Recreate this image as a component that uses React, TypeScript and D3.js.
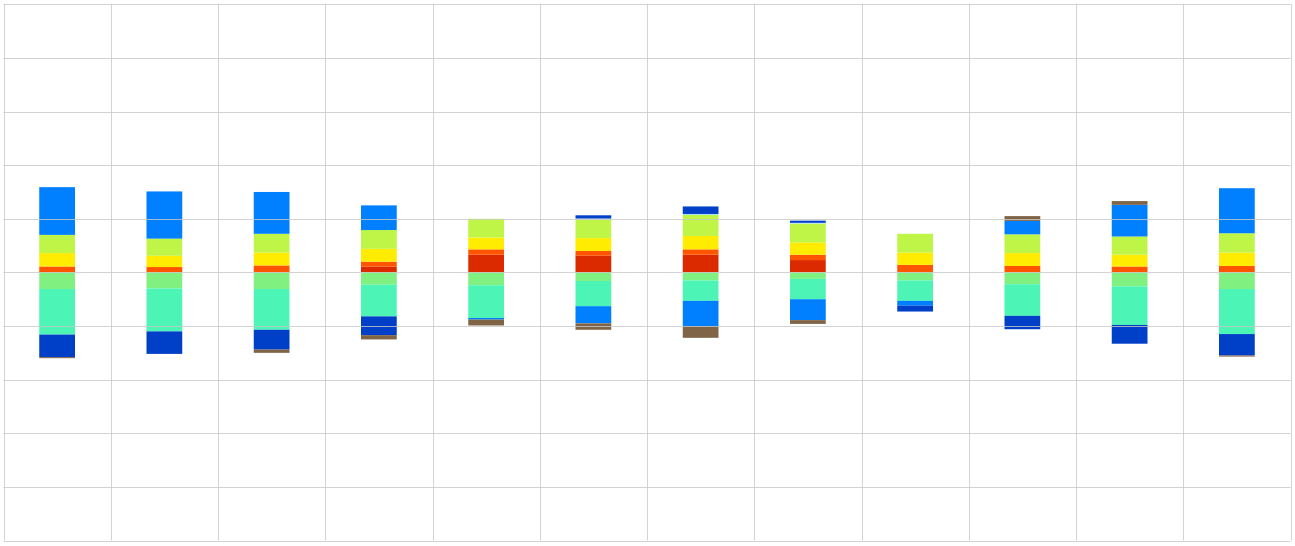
import React from "react";
import * as d3 from "d3";

const categories = ["1", "2", "3", "4", "5", "6", "7", "8", "9", "10", "11", "12"];

const seriesNames = ["darkred", "orange", "yellow", "yellowgreen", "lightgreen", "aquamarine", "blue", "sky", "darkblue", "brown"];
const seriesColors = ["#dc2a00", "#ff5500", "#ffec00", "#bff546", "#80f080", "#4cf5b5", "#0080ff", "#a6e3f2", "#0040c8", "#806446"];

const darkred = [0, 0, 0, 1.1, 3.3, 3.1, 3.3, 2.3, 0, 0, 0, 0];
const orange = [1.1, 1.0, 1.3, 0.9, 1.0, 0.9, 1.0, 1.0, 1.4, 1.2, 1.1, 1.2];
const yellow = [2.5, 2.1, 2.4, 2.4, 2.2, 2.4, 2.5, 2.3, 2.3, 2.4, 2.2, 2.5];
const yellowgreen = [3.4, 3.2, 3.5, 3.5, 3.5, 3.5, 3.9, 3.5, 3.5, 3.5, 3.4, 3.6];
const lightgreen = [-3.1, -3.0, -3.1, -2.3, -2.4, -1.6, -1.5, -1.2, -1.5, -2.2, -2.6, -3.1];
const aquamarine = [-8.5, -8.0, -7.6, -5.9, -6.1, -4.7, -3.8, -3.8, -3.8, -5.9, -7.2, -8.4];
const blue = [8.9, 8.8, 7.8, 4.6, -0.3, -3.2, -4.7, -3.9, -0.9, 2.5, 5.9, 8.4];
const sky = [0, 0, 0, 0, 0, 0.15, 0.2, 0.15, 0, 0, 0, 0];
const darkblue = [-4.2, -4.2, -3.7, -3.5, 0, 0.6, 1.4, 0.4, -1.1, -2.5, -3.5, -4.0];
const brown = [-0.2, 0, -0.6, -0.8, -1.1, -1.2, -2.2, -0.7, 0, 0.9, 0.7, -0.2];

const seriesValues = [darkred, orange, yellow, yellowgreen, lightgreen, aquamarine, blue, sky, darkblue, brown];

const yTicks = [-50, -40, -30, -20, -10, 0, 10, 20, 30, 40, 50];

const W = 1295;
const H = 546;
const left = 3.5;
const right = 1290.5;
const top = 4.3;
const bottom = 540.5;

export default function App() {
  const rows = categories.map((c, i) => {
    const r: any = { cat: c };
    seriesNames.forEach((s, k) => (r[s] = seriesValues[k][i]));
    return r;
  });
  const stack = d3.stack<any>().keys(seriesNames).offset(d3.stackOffsetDiverging);
  const stacked = stack(rows);

  const x = d3.scaleBand<string>().domain(categories).range([left, right]).padding(0);
  const y = d3.scaleLinear().domain([-50, 50]).range([bottom, top]);
  const bw = x.bandwidth();
  const barW = bw / 3;

  const vLines = categories.map((c) => x(c) as number).concat([right]);

  return (
    <svg width={W} height={H} style={{ position: "absolute", left: 0, top: 0, background: "#fff" }}>
      <rect x={0} y={0} width={W} height={H} fill="#fff" />
      <g>
        {stacked.map((layer, k) => (
          <g key={seriesNames[k]} fill={seriesColors[k]}>
            {layer.map((d, i) => {
              const y0 = y(d[0]);
              const y1 = y(d[1]);
              const h = Math.abs(y0 - y1);
              if (h <= 0) return null;
              return (
                <rect
                  key={i}
                  x={(x(categories[i]) as number) + barW}
                  y={Math.min(y0, y1)}
                  width={barW}
                  height={h}
                />
              );
            })}
          </g>
        ))}
      </g>
      <g stroke="#c8c8c8" strokeOpacity={0.8} strokeWidth={1} fill="none">
        {yTicks.map((t) => {
          const yy = Math.round(y(t)) + 0.5;
          return <line key={"h" + t} x1={left} x2={right} y1={yy} y2={yy} />;
        })}
        {vLines.map((vx, i) => {
          const xx = Math.round(vx) + 0.5;
          return <line key={"v" + i} x1={xx} x2={xx} y1={top} y2={bottom} />;
        })}
      </g>
    </svg>
  );
}
